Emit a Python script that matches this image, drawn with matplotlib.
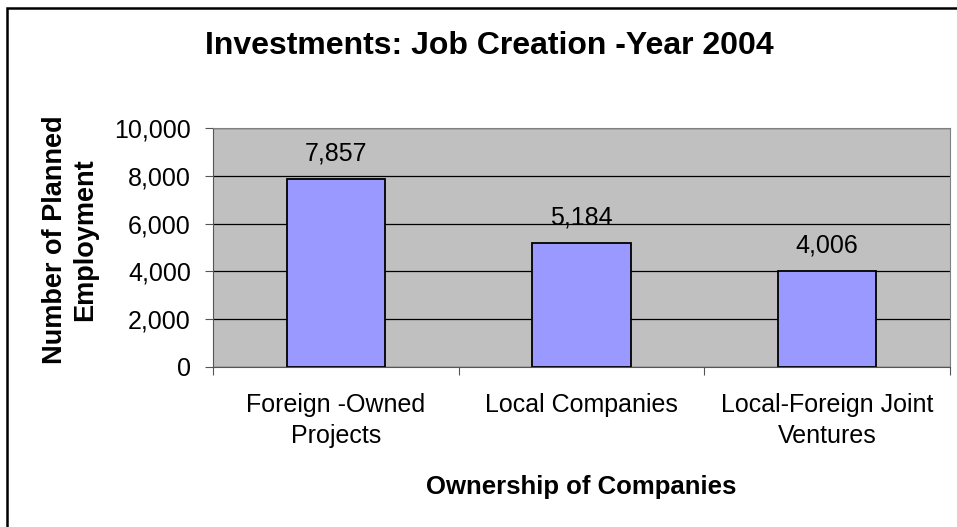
import matplotlib.pyplot as plt
from matplotlib.patches import Rectangle
from matplotlib.ticker import FuncFormatter

categories = ["Foreign -Owned\nProjects", "Local Companies", "Local-Foreign Joint\nVentures"]
employment = [7857, 5184, 4006]
y_ticks = [0, 2000, 4000, 6000, 8000, 10000]

plt.rcParams['font.family'] = ['Liberation Sans', 'DejaVu Sans']

W, H = 957, 527
fig = plt.figure(figsize=(W / 100, H / 100), dpi=100)
fig.patch.set_facecolor('white')

# outer chart border (right and bottom edges run off the picture)
fig.patches.append(Rectangle((7 / W, -10 / H), 980 / W, (H - 8 + 10) / H, transform=fig.transFigure,
                             fill=False, edgecolor='black', linewidth=1.8))

ax = fig.add_axes([213 / W, 1 - 367 / H, 737 / W, 239 / H])
ax.set_facecolor('#C0C0C0')

x = list(range(len(categories)))
ax.bar(x, employment, width=0.4, color='#9999FF', edgecolor='black', linewidth=1.3, zorder=3)

for xi, v in zip(x, employment):
    ax.annotate("{:,}".format(v), xy=(xi, v), xytext=(0, 19), textcoords='offset pixels',
                ha='center', va='baseline', fontsize=18)

ax.set_xlim(-0.5, len(categories) - 0.5)
ax.set_ylim(0, 10000)
ax.set_yticks(y_ticks)
ax.yaxis.set_major_formatter(FuncFormatter(lambda v, p: "{:,}".format(int(v))))
ax.yaxis.grid(True, color='black', linewidth=0.9, zorder=1)
ax.set_axisbelow(True)

# category ticks sit between the groups
ax.set_xticks([-0.5, 0.5, 1.5, 2.5])
ax.set_xticklabels([])
ax.set_xticks(x, minor=True)
ax.set_xticklabels(categories, minor=True, fontsize=18, linespacing=1.36)
ax.tick_params(axis='x', which='minor', length=0, pad=19)
ax.tick_params(axis='x', which='major', length=6, direction='out', color='#555555')
ax.tick_params(axis='y', length=6, direction='out', labelsize=18, color='#555555', pad=10)

for side in ['top', 'right']:
    ax.spines[side].set_color('#808080')
ax.spines['left'].set_color('#555555')
ax.spines['bottom'].set_color('#555555')

fig.text(581 / W, 1 - 487 / H, "Ownership of Companies", ha='center', va='center',
         fontsize=18.5, fontweight='bold')
fig.text(70 / W, 1 - 240 / H, "Number of Planned\nEmployment", rotation=90, ha='center', va='center',
         fontsize=19.5, fontweight='bold', linespacing=1.2)

fig.text(489 / W, 1 - 46 / H, "Investments: Job Creation -Year 2004", ha='center', va='center',
         fontsize=23, fontweight='bold')

plt.savefig("out.png", dpi=100)
plt.close()
